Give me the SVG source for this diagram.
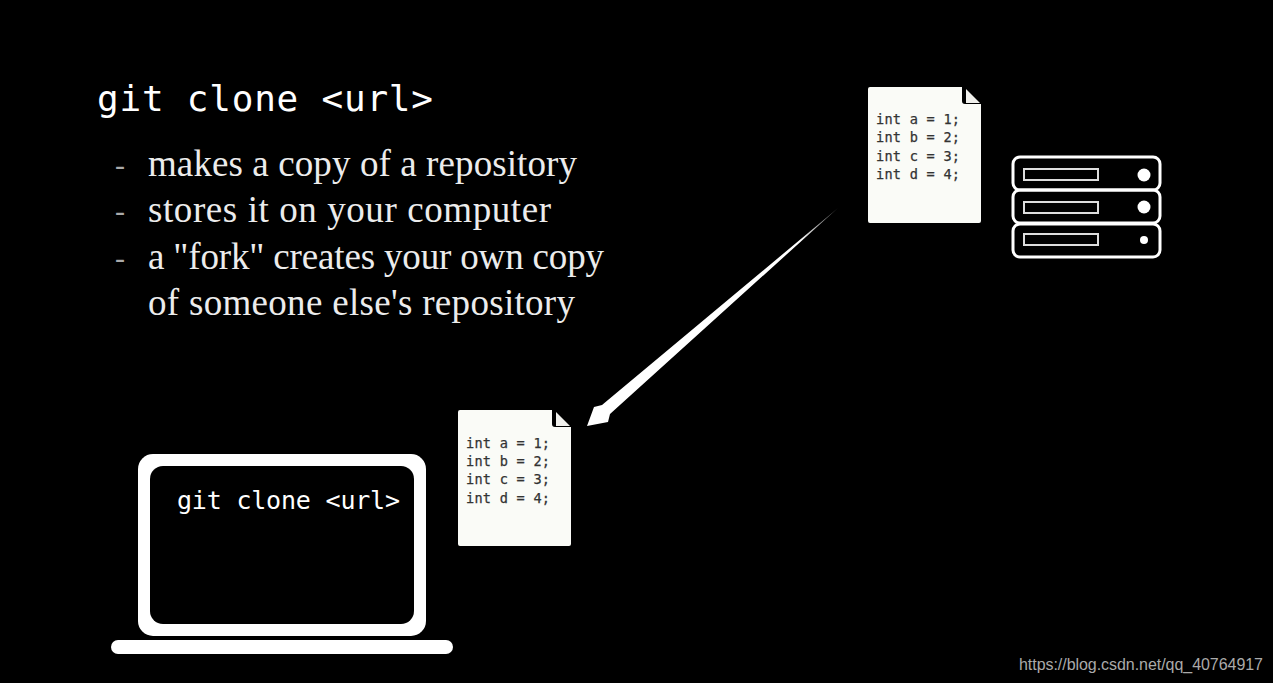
<svg xmlns="http://www.w3.org/2000/svg" width="1273" height="683" viewBox="0 0 1273 683">
<style>
.code{font-family:"DejaVu Sans Mono","Liberation Mono",monospace;fill:#fff}
.body{font-family:"Liberation Serif",serif;font-size:37px;fill:#ececec}
.dash{font-family:"Liberation Serif",serif;font-size:30px;fill:#aaa}
.doc{font-family:"DejaVu Sans Mono",monospace;font-size:13.6px;fill:#333;stroke:#333;stroke-width:.25}
</style>
<defs>
<g id="page"><path d="M2 0H94V14a3 3 0 0 0 3 3H113V134a2 2 0 0 1-2 2H2a2 2 0 0 1-2-2V2a2 2 0 0 1 2-2Z" fill="#fafbf7"/><path d="M98 2L112 16H98Z" fill="#f0f0ec"/></g>
<linearGradient id="fade" gradientUnits="userSpaceOnUse" x1="838" y1="208" x2="800" y2="241"><stop offset="0" stop-color="#444"/><stop offset="1" stop-color="#fff"/></linearGradient>
</defs>
<rect width="1273" height="683" fill="#000"/>
<text class="code" x="97" y="111" font-size="36" textLength="336" lengthAdjust="spacing">git clone &lt;url&gt;</text>
<text class="dash" x="115" y="175">-</text><text class="dash" x="115" y="221">-</text><text class="dash" x="115" y="268">-</text>
<g class="body"><text x="148" y="176" textLength="429" lengthAdjust="spacing">makes a copy of a repository</text>
<text x="148" y="222" textLength="403" lengthAdjust="spacing">stores it on your computer</text>
<text x="148" y="269" textLength="456" lengthAdjust="spacing">a "fork" creates your own copy</text>
<text x="148" y="315" textLength="427" lengthAdjust="spacing">of someone else's repository</text></g>
<g id="remote-file"><use href="#page" x="868" y="87"/><text class="doc" x="876" y="124" textLength="84">int a = 1;</text><text class="doc" x="876" y="142" textLength="84">int b = 2;</text><text class="doc" x="876" y="161" textLength="84">int c = 3;</text><text class="doc" x="876" y="179" textLength="84">int d = 4;</text></g>
<g id="server" fill="none" stroke="#fff" stroke-width="3">
<rect x="1013" y="157" width="147" height="33" rx="7"/><rect x="1013" y="190" width="147" height="33" rx="7"/><rect x="1013" y="224" width="147" height="33" rx="7"/>
<g stroke="#ddd" stroke-width="2"><rect x="1024" y="169" width="74" height="11"/><rect x="1024" y="202" width="74" height="11"/><rect x="1024" y="234" width="74" height="11"/></g>
<circle cx="1144" cy="175" r="6.5" fill="#fff" stroke="none"/><circle cx="1144" cy="207" r="6.5" fill="#fff" stroke="none"/><circle cx="1144" cy="240" r="4" fill="#fff" stroke="none"/></g>
<g id="connectors"><polygon points="838,208 602,405 594,407 587,426 608,422 610,414" fill="url(#fade)"/></g>
<g id="local-file"><use href="#page" x="458" y="410"/><text class="doc" x="466" y="448" textLength="84">int a = 1;</text><text class="doc" x="466" y="466" textLength="84">int b = 2;</text><text class="doc" x="466" y="484" textLength="84">int c = 3;</text><text class="doc" x="466" y="503" textLength="84">int d = 4;</text></g>
<g id="laptop"><rect x="138" y="454" width="288" height="182" rx="15" fill="#fff"/><rect x="150" y="466" width="264" height="158" rx="13" fill="#000"/><rect x="111" y="640" width="342" height="14" rx="7" fill="#fff"/><text class="code" x="177" y="509" font-size="25" textLength="223" lengthAdjust="spacing">git clone &lt;url&gt;</text></g>
<text x="1019" y="670" font-family="Liberation Sans,sans-serif" font-size="16" fill="#aaa" textLength="244">https://blog.csdn.net/qq_40764917</text>
</svg>
